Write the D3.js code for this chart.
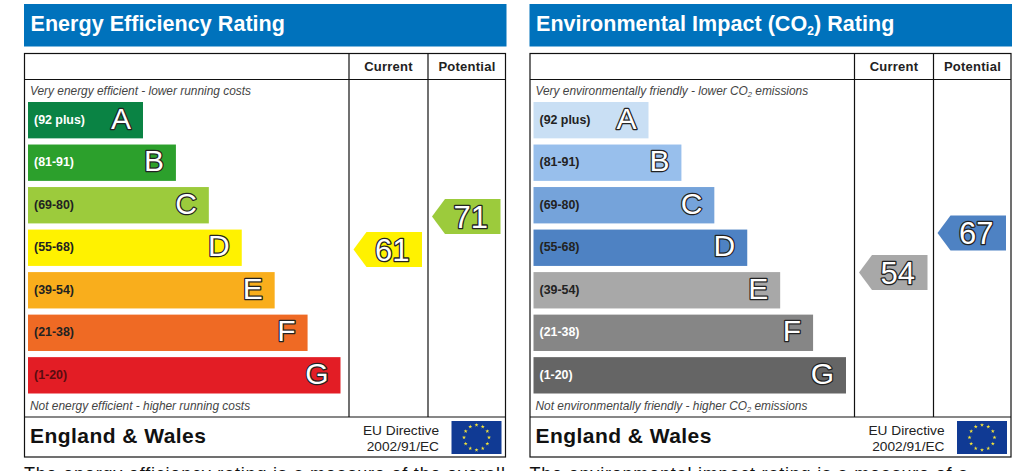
<!DOCTYPE html>
<html><head><meta charset="utf-8">
<style>html,body{margin:0;padding:0;background:#fff;overflow:hidden}svg{display:block}text{font-family:"Liberation Sans",Arial,sans-serif}</style>
<script src="https://cdn.jsdelivr.net/npm/d3@7/dist/d3.min.js"></script></head>
<body><svg id="c" width="1024" height="471"></svg>
<script>
const bandLetters = ["A","B","C","D","E","F","G"];
const bandRanges = ["(92 plus)","(81-91)","(69-80)","(55-68)","(39-54)","(21-38)","(1-20)"];
const bandLength = [1,2,3,4,5,6,7];
const energyColors = ["#0a8344","#2ca02c","#9ccb3c","#fff200","#f9ae1c","#ef6a24","#e31d25"];
const energyRangeColors = ["#fff","#fff","#222","#222","#222","#222","#5a0c10"];
const envColors = ["#c9dff4","#98bfec","#75a3da","#4e82c3","#a8a8a8","#868686","#656565"];
const envRangeColors = ["#222","#222","#222","#222","#222","#fff","#fff"];
const energyTitle = "Energy Efficiency Rating";
const envTitle = ["Environmental Impact (CO","2",") Rating"];
const energyTop = "Very energy efficient - lower running costs";
const energyBottom = "Not energy efficient - higher running costs";
const envTop = ["Very environmentally friendly - lower CO","2"," emissions"];
const envBottom = ["Not environmentally friendly - higher CO","2"," emissions"];
const columnLabels = ["Current","Potential"];
const energyCurrent = 61, energyPotential = 71;
const envCurrent = 54, envPotential = 67;
const energyCurrentColor = "#fff200", energyPotentialColor = "#9ccb3c";
const envCurrentColor = "#a8a8a8", envPotentialColor = "#4e82c3";
const footerTitle = "England & Wales";
const directive = ["EU Directive","2002/91/EC"];
const energyNote = "The energy efficiency rating is a measure of the overall";
const envNote = "The environmental impact rating is a measure of a";

const svg = d3.select("#c");
const ratingY = d3.scaleLinear().domain([54,61,67,71]).range([272.5,249.5,233,216.5]);
const bandY = d3.scaleBand().domain(bandLetters).range([102,393.5]).paddingInner(0.145).paddingOuter(0);
const lenX = d3.scaleLinear().domain([1,7]).range([115,312.5]);

function spanText(sel, parts, subSize){
  parts.forEach((p,i)=>{
    const t = sel.append("tspan").text(p);
    if(i===1){ t.attr("font-size",subSize).attr("dy",subSize*0.3); }
    if(i===2){ t.attr("dy",-subSize*0.3); }
  });
}
const star = d3.symbol().type(d3.symbolStar).size(5);

function panel(ox, cfg){
  const g = svg.append("g").attr("transform",`translate(${ox},0)`);
  g.append("rect").attr("x",24).attr("y",4).attr("width",482.5).attr("height",42.5).attr("fill","#0072bc");
  const tt = g.append("text").attr("x",30.5).attr("y",31).attr("fill","#fff").attr("font-size",21.5).attr("font-weight","bold").attr("letter-spacing",0.05);
  spanText(tt, cfg.title, 12);

  g.append("rect").attr("x",24.5).attr("y",53.5).attr("width",481).attr("height",403.5).attr("fill","#fff").attr("stroke","#111").attr("stroke-width",1.2);
  [[24.5,79.5,505.5,79.5],[24.5,417,505.5,417],[349,53.5,349,417],[428,53.5,428,417]].forEach(l=>{
    g.append("line").attr("x1",l[0]).attr("y1",l[1]).attr("x2",l[2]).attr("y2",l[3]).attr("stroke","#111").attr("stroke-width",1.2);
  });
  g.selectAll(".col").data(columnLabels).join("text").attr("x",(d,i)=>[388.5,467][i]).attr("y",71).attr("text-anchor","middle")
    .attr("font-size",13).attr("font-weight","bold").attr("letter-spacing",0.25).attr("fill","#222").text(d=>d);

  const top = g.append("text").attr("x",30).attr("y",94.5).attr("font-size",11.9).attr("font-style","italic").attr("fill","#444");
  spanText(top, cfg.top, 7.5);
  const bot = g.append("text").attr("x",30).attr("y",409.5).attr("font-size",11.9).attr("font-style","italic").attr("fill","#444");
  spanText(bot, cfg.bottom, 7.5);

  const bars = g.selectAll(".bar").data(bandLetters).join("g");
  bars.append("rect").attr("x",28).attr("y",d=>bandY(d)).attr("height",bandY.bandwidth())
    .attr("width",(d,i)=>lenX(bandLength[i])).attr("fill",(d,i)=>cfg.colors[i]);
  bars.append("text").attr("x",34).attr("y",d=>bandY(d)+bandY.bandwidth()/2+3.5).attr("font-size",12.4).attr("font-weight","bold")
    .attr("fill",(d,i)=>cfg.rangeColors[i]).text((d,i)=>bandRanges[i]);
  bars.append("text").attr("x",(d,i)=>28+lenX(bandLength[i])-12).attr("y",d=>bandY(d)+bandY.bandwidth()/2+8.5).attr("text-anchor","end")
    .attr("font-size",30).attr("fill","#fff").attr("stroke","#222").attr("stroke-width",2.5).attr("stroke-linejoin","round").attr("paint-order","stroke").text(d=>d);

  const arrow = d3.line();
  [[cfg.current,cfg.currentColor,353.5],[cfg.potential,cfg.potentialColor,432]].forEach(a=>{
    const cy = ratingY(a[0]), x0 = a[2];
    g.append("path").attr("fill",a[1]).attr("d",arrow([[x0,cy],[x0+13,cy-17.5],[x0+68.5,cy-17.5],[x0+68.5,cy+17.5],[x0+13,cy+17.5]])+"Z");
    g.append("text").attr("x",x0+56).attr("y",cy+11).attr("text-anchor","end").attr("font-size",31).attr("fill","#fff")
      .attr("stroke","#222").attr("stroke-width",2.6).attr("stroke-linejoin","round").attr("paint-order","stroke").text(a[0]);
  });

  g.append("text").attr("x",30).attr("y",443).attr("font-size",21).attr("font-weight","bold").attr("letter-spacing",0.45).attr("fill","#111").text(footerTitle);
  g.selectAll(".dir").data(directive).join("text").attr("x",439).attr("text-anchor","end").attr("y",(d,i)=>435+i*15.5)
    .attr("font-size",13.7).attr("fill","#222").text(d=>d);

  g.append("rect").attr("x",451.5).attr("y",421).attr("width",50).attr("height",33).attr("fill","#103a94");
  g.selectAll(".star").data(d3.range(12)).join("path").attr("d",star).attr("fill","#f4e33a")
    .attr("transform",d=>`translate(${476.5+12.5*Math.sin(d*Math.PI/6)},${437.5-12.5*Math.cos(d*Math.PI/6)})`);

  g.append("text").attr("x",24).attr("y",479.5).attr("font-size",18).attr("letter-spacing",0.8).attr("fill","#111").text(cfg.note);
}
panel(0,{title:[energyTitle],top:[energyTop],bottom:[energyBottom],colors:energyColors,rangeColors:energyRangeColors,
  current:energyCurrent,potential:energyPotential,currentColor:energyCurrentColor,potentialColor:energyPotentialColor,note:energyNote});
panel(505.5,{title:envTitle,top:envTop,bottom:envBottom,colors:envColors,rangeColors:envRangeColors,
  current:envCurrent,potential:envPotential,currentColor:envCurrentColor,potentialColor:envPotentialColor,note:envNote});
</script></body></html>
